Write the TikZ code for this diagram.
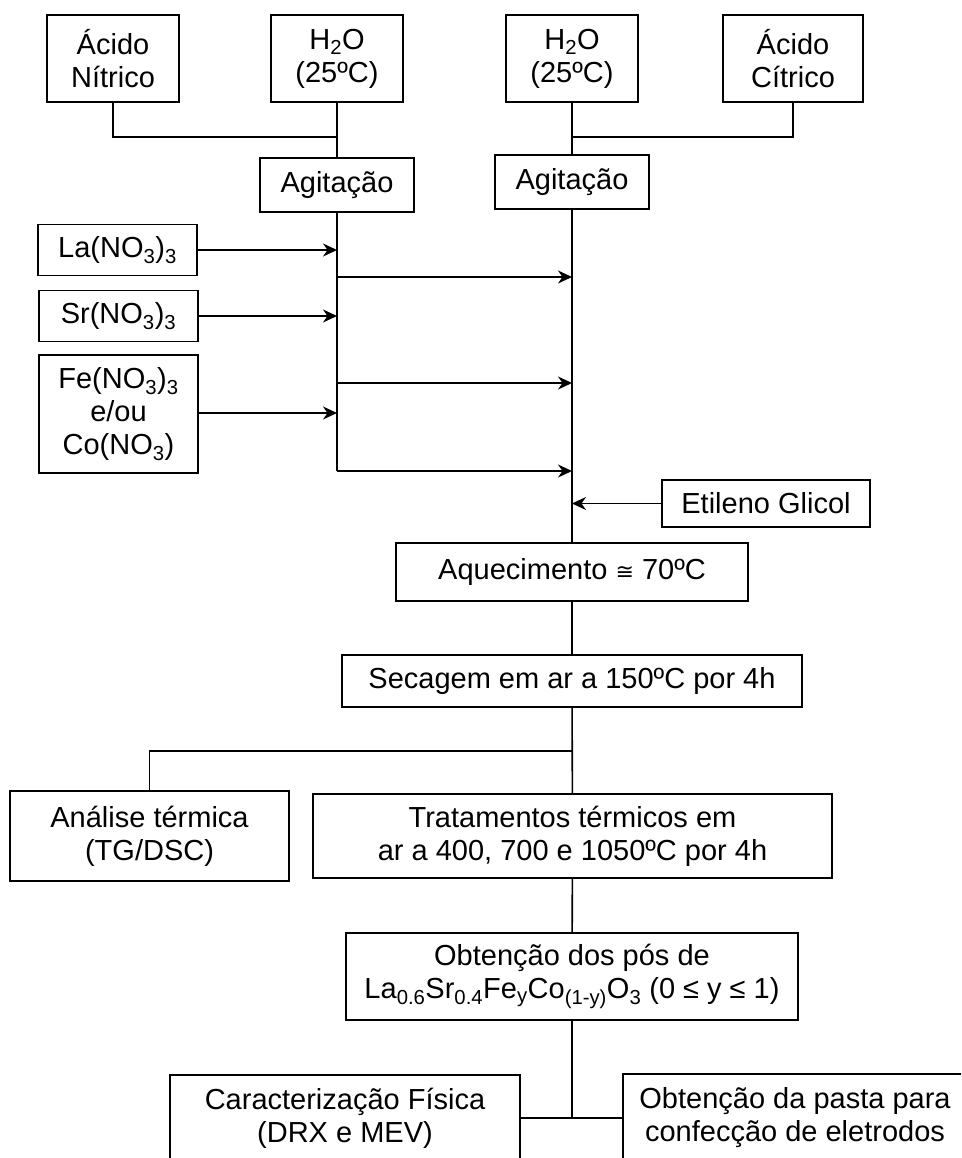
\documentclass[tikz,border=0pt]{standalone}
\usepackage{fontspec}
\setmainfont{Liberation Sans}
\newfontfamily\symfont{DejaVu Sans}
\usepackage{tikz}
\usetikzlibrary{arrows.meta}

\tikzset{
    box/.style={draw, line width=1.6pt, align=center, inner sep=0pt,
        font=\fontsize{29}{33}\selectfont},
    link/.style={line width=1.6pt},
    arr/.style={link, -{Stealth[length=14pt, width=13pt, inset=4.5pt]}}
}

\begin{document}
\begin{tikzpicture}[x=1pt, y=-1pt]
        \useasboundingbox (0,0) rectangle (961,1158);
        \clip (0,0) rectangle (961,1158);

        % Nodes
        \node[box, minimum width=132pt, minimum height=87pt] (nitrico) at (113,58.5) {Ácido\\Nítrico};
        \node[box, minimum width=132pt, minimum height=87pt] (aguaA) at (337,58.5) {H\textsubscript{2}O\\(25ºC)};
        \node[box, minimum width=132pt, minimum height=87pt] (aguaB) at (572,58.5) {H\textsubscript{2}O\\(25ºC)};
        \node[box, minimum width=140pt, minimum height=87pt] (citrico) at (793,58.5) {Ácido\\Cítrico};

        \node[box, minimum width=154pt, minimum height=54pt] (agitA) at (337,185) {Agitação};
        \node[box, minimum width=154pt, minimum height=54pt] (agitB) at (572,182) {Agitação};

        \node[box, minimum width=159pt, minimum height=51pt] (la) at (117.5,250) {La(NO\textsubscript{3})\textsubscript{3}};
        \node[box, minimum width=159pt, minimum height=51pt] (sr) at (118.5,316) {Sr(NO\textsubscript{3})\textsubscript{3}};
        \node[box, minimum width=159pt, minimum height=118pt] (fe) at (118.5,414) {Fe(NO\textsubscript{3})\textsubscript{3}\\e/ou\\Co(NO\textsubscript{3})};

        \node[box, minimum width=208pt, minimum height=47pt] (etileno) at (766,503.5) {Etileno Glicol};
        \node[box, minimum width=352pt, minimum height=58pt] (aquec) at (572,572) {Aquecimento {\symfont\fontsize{22}{26}\selectfont ≅} 70ºC};
        \node[box, minimum width=460pt, minimum height=52pt] (secagem) at (572,681) {Secagem em ar a 150ºC por 4h};

        \node[box, minimum width=279pt, minimum height=90pt] (analise) at (149.5,836) {Análise térmica\\(TG/DSC)};
        \node[box, minimum width=519pt, minimum height=84pt] (trat) at (572.5,836) {Tratamentos térmicos em\\ar a 400, 700 e 1050ºC por 4h};

        \node[box, minimum width=452pt, minimum height=87pt] (obt) at (572,976.5) {Obtenção dos pós de\\La\textsubscript{0.6}Sr\textsubscript{0.4}Fe\textsubscript{y}Co\textsubscript{(1-y)}O\textsubscript{3} (0 ≤ y ≤ 1)};

        \node[box, minimum width=350pt, minimum height=86pt] (carac) at (345,1118) {Caracterização Física\\(DRX e MEV)};
        \node[box, minimum width=344pt, minimum height=88pt] (pasta) at (795,1118) {Obtenção da pasta para\\confecção de eletrodos};

        % Junctions
        \coordinate (jA) at (337,137);
        \coordinate (jB) at (572,137);
        \coordinate (baseA) at (337,471);
        \coordinate (jC) at (572,751);
        \coordinate (jD) at (572,1118);

        % Edges
        \draw[link] (nitrico.south) |- (jA);
        \draw[link] (aguaA) -- (agitA);
        \draw[link] (citrico.south) |- (jB);
        \draw[link] (aguaB) -- (agitB);

        \draw[link] (agitA.south) -- (baseA);
        \draw[link] (agitB) -- (aquec);

        \foreach \n in {la,sr} {
            \draw[arr] (\n.east) -- (\n.east -| agitA);
        }
        \draw[arr] (fe.east |- 0,413) -- (agitA |- 0,413);

        \foreach \y [count=\i] in {277,383,471} {
            \coordinate (s\i) at (337,\y);
            \draw[arr] (s\i) -- (s\i -| agitB);
        }

        \draw[arr] (etileno.west) -- (etileno.west -| aquec);

        \draw[link] (aquec) -- (secagem);
        \draw[link] (secagem) -- (trat);
        \draw[link] (jC) -| (analise.north);
        \draw[link] (trat) -- (obt);
        \draw[link] (obt.south) -- (jD);
        \draw[link] (carac.east) -- (pasta.west);
\end{tikzpicture}
\end{document}
